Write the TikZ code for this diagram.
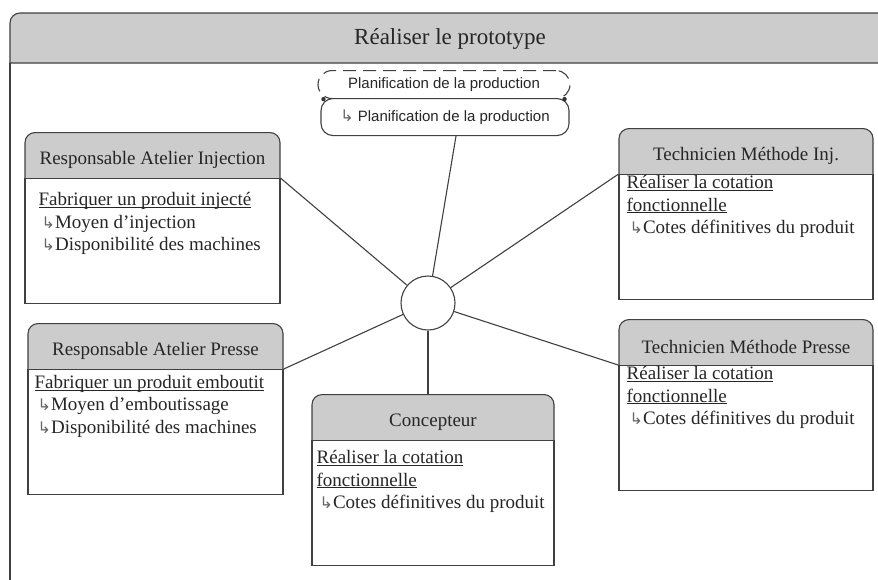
\documentclass[tikz,border=0pt]{standalone}
\usepackage{fontspec}
\setmainfont{Liberation Serif}
\newfontfamily\sansf{Liberation Sans}
\newfontfamily\symf{DejaVu Sans}
\usetikzlibrary{positioning}

\newcommand{\fl}{{\symf\fontsize{16}{16}\selectfont\color{black!60}↳}}
\newcommand{\puce}[1]{\hspace*{3pt}\fl#1}
\newcommand{\souligne}[1]{\underline{\raisebox{0pt}[\height][0pt]{#1}}}

\tikzset{
  trait/.style={draw=black!75, line width=1.1pt},
  entete/.style={trait, fill=gray!40, rounded corners=10pt, inner sep=0pt, anchor=north,
    minimum height=55pt, text=black!85, font=\fontsize{19}{22.5}\selectfont},
  corps/.style={trait, fill=white, inner sep=0pt, minimum height=125pt},
  texte/.style={align=left, inner sep=0pt, text=black!85, font=\fontsize{19}{22.5}\selectfont},
  plan/.style={trait, inner sep=0pt, text=black!85, font=\sansf\fontsize{15}{15}\selectfont},
}

\begin{document}
\begin{tikzpicture}[x=1pt, y=1pt]
    \useasboundingbox (0,0) rectangle (878,-579);
    \clip (0,0) rectangle (878,-579);

    % cadre du processus
    \draw[trait, fill=gray!40] (10,-63) [rounded corners=10pt] -- (10,-13) -- (890,-13)
        [sharp corners] -- (890,-63) -- cycle;
    \draw[trait] (10,-63) -- (10,-600);
    \node[text=black!85, font=\fontsize{23}{23}\selectfont] (titre) at (450,-39) {Réaliser le prototype};

    % planification
    \node[plan, dashed, dash pattern=on 13pt off 7pt, rounded corners=14pt, anchor=north,
        minimum width=252pt, minimum height=28pt] (planH) at (444,-70) {Planification de la production};
    \node[plan, fill=white, rounded corners=12pt, anchor=north,
        minimum width=248pt, minimum height=37pt] (planB) at (445,-98) {\fl\ Planification de la production};
    \fill[black!80] ([xshift=6pt]planH.south west) circle (2.2pt);
    \fill[black!80] ([xshift=-6pt]planH.south east) circle (2.2pt);

    % acteurs
    \node[entete, minimum width=255pt] (raiH) at (152.5,-132) {Responsable Atelier Injection};
    \node[corps, minimum width=255pt, below=-10pt of raiH] (raiB) {};
    \node[texte, below right=14pt and 14pt of raiB.north west] (raiT)
        {\souligne{Fabriquer un produit injecté}\\ \puce{Moyen d’injection}\\ \puce{Disponibilité des machines}};

    \node[entete, minimum width=254pt] (tmiH) at (746,-128) {Technicien Méthode Inj.};
    \node[corps, minimum width=254pt, below=-10pt of tmiH] (tmiB) {};
    \node[texte, below right=1pt and 8pt of tmiB.north west] (tmiT)
        {\souligne{Réaliser la cotation}\\ \souligne{fonctionnelle}\\ \puce{Cotes définitives du produit}};

    \node[entete, minimum width=255pt] (rapH) at (155.5,-323) {Responsable Atelier Presse};
    \node[corps, minimum width=255pt, below=-10pt of rapH] (rapB) {};
    \node[texte, below right=6pt and 7pt of rapB.north west] (rapT)
        {\souligne{Fabriquer un produit emboutit}\\ \puce{Moyen d’emboutissage}\\ \puce{Disponibilité des machines}};

    \node[entete, minimum width=254pt] (tmpH) at (746,-319) {Technicien Méthode Presse};
    \node[corps, minimum width=254pt, below=-10pt of tmpH] (tmpB) {};
    \node[texte, below right=1pt and 8pt of tmpB.north west] (tmpT)
        {\souligne{Réaliser la cotation}\\ \souligne{fonctionnelle}\\ \puce{Cotes définitives du produit}};

    \node[entete, minimum width=242pt] (conH) at (433,-394) {Concepteur};
    \node[corps, minimum width=242pt, below=-10pt of conH] (conB) {};
    \node[texte, below right=10pt and 5pt of conB.north west] (conT)
        {\souligne{Réaliser la cotation}\\ \souligne{fonctionnelle}\\ \puce{Cotes définitives du produit}};

    % pivot
    \node[trait, circle, fill=white, minimum size=54pt, inner sep=0pt] (hub) at (428,-303) {};

    % liens
    \draw[trait] (hub) -- ([xshift=11pt]planB.south);
    \draw[trait] (hub) -- (raiB.north east);
    \draw[trait] (hub) -- (tmiB.north west);
    \draw[trait] (hub) -- (rapB.north east);
    \draw[trait] (hub) -- (tmpB.north west);
    \draw[trait] (hub) -- (hub |- conH.north);

\end{tikzpicture}
\end{document}
